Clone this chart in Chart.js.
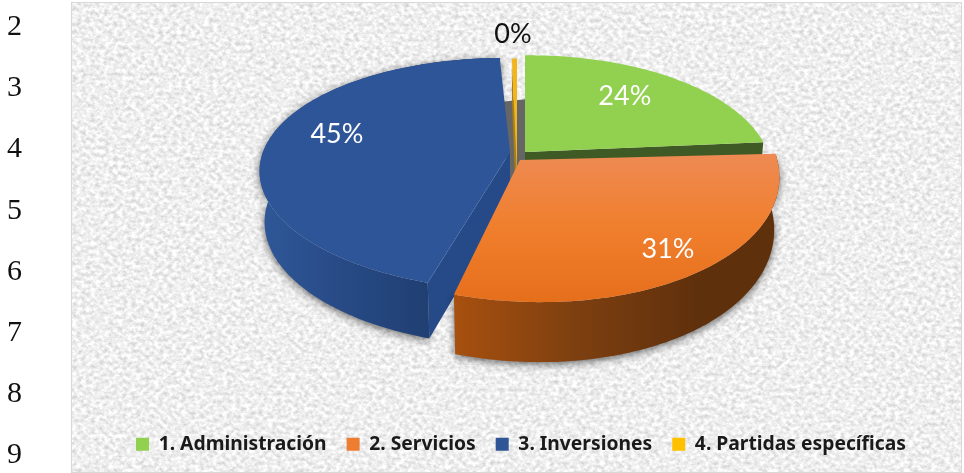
<!DOCTYPE html>
<html lang="es">
<head>
<meta charset="utf-8">
<title>Gastos por capítulo</title>
<script src="https://cdn.jsdelivr.net/npm/chart.js@4"></script>
<style>
  html, body { margin: 0; padding: 0; background: #fff; }
  #page { position: relative; width: 964px; height: 473px; overflow: hidden; }
  #paper { position: absolute; left: 0; top: 0; }
  #chart { position: absolute; left: 0; top: 0; }
  .side { position: absolute; left: 7px; font: 30px "Liberation Serif", serif; color: #111; line-height: 32px; }
</style>
</head>
<body>
<div id="page">
  <svg id="paper" width="964" height="473">
    <filter id="grain" x="0" y="0" width="100%" height="100%" color-interpolation-filters="sRGB">
      <feTurbulence type="fractalNoise" baseFrequency="0.22 0.26" numOctaves="3" seed="7"/>
      <feColorMatrix type="matrix" values="0.32 0 0 0 0.775  0.32 0 0 0 0.775  0.32 0 0 0 0.775  0 0 0 0 1"/>
      <feGaussianBlur stdDeviation="0.7"/>
    </filter>
    <rect x="72" y="3" width="889" height="469" filter="url(#grain)"/>
    <rect x="71.5" y="2.5" width="890" height="470" fill="none" stroke="#d8d8d8"/>
  </svg>
  <canvas id="chart" width="964" height="473"></canvas>
</div>
<script>
"use strict";

const categories = ["1. Administración", "2. Servicios", "3. Inversiones", "4. Partidas específicas"];
const shareValues = [24, 31, 45, 0.4];
const sideNumbers = ["2", "3", "4", "5", "6", "7", "8", "9"];
const sliceColors = ["#92d050", "#ed7d31", "#2f5597", "#ffc000"];

// Perspective of each exploded slice: apex on the page, axes, foreshortening, wall depth, label place
const sliceViews = [
    { ax: 525, ay: 152, a: 242, c: 0, b: -2, d: 115, k: 0.19, depth: 52, slant: 8, label: 0.66, labelDx: 0, labelDy: -4, labelColor: "#ffffff" },
    { ax: 520, ay: 160, a: 258, c: 14, b: 3, d: 135, k: 0.05, depth: 52, slant: 8, label: 0.82, labelDx: 3, labelDy: -2, labelColor: "#ffffff" },
    { ax: 510, ay: 152, a: 247, c: 6, b: 0, d: 112, k: 0.19, depth: 50, slant: 6, label: 0.71, labelDx: -2, labelDy: -7, labelColor: "#ffffff" },
    { ax: 517, ay: 177, a: 244, c: 0, b: 0, d: 141, k: 0.19, depth: 52, slant: 8, label: 1.24, labelDx: -1, labelDy: -1, labelColor: "#111111" }
];

sideNumbers.forEach(function (text, i) {
    const el = document.createElement("div");
    el.className = "side";
    el.textContent = text;
    el.style.top = (9 + i * 61.2) + "px";
    document.getElementById("page").appendChild(el);
});

// Point on the top face for a slice angle and a radius fraction
function project(view, angle, radius) {
    const u = Math.cos(angle) * radius;
    const v = Math.sin(angle) * radius;
    const w = 1 - view.k * v;
    return {
        x: view.ax + (view.a * u + view.c * v) / w,
        y: view.ay + (view.b * u + view.d * v) / w,
        v: v
    };
}

// Same point pushed down to the bottom face
function drop(view, p) {
    return {
        x: view.ax + (p.x - view.ax) * 0.98,
        y: p.y + view.depth + view.slant * p.v
    };
}

function arcPoints(view, start, end) {
    const pts = [];
    const steps = Math.max(2, Math.ceil((end - start) / 0.02));
    for (let i = 0; i <= steps; i++) {
        pts.push(project(view, start + (end - start) * i / steps, 1));
    }
    return pts;
}

function fillPath(ctx, pts, fill) {
    ctx.beginPath();
    pts.forEach(function (p, i) {
        if (i === 0) ctx.moveTo(p.x, p.y);
        else ctx.lineTo(p.x, p.y);
    });
    ctx.closePath();
    ctx.fillStyle = fill;
    ctx.fill();
}

function horizontal(ctx, x0, x1, stops) {
    const g = ctx.createLinearGradient(x0, 0, x1, 0);
    stops.forEach(function (s, i) { g.addColorStop(i / (stops.length - 1), s); });
    return g;
}

function vertical(ctx, y0, y1, stops) {
    const g = ctx.createLinearGradient(0, y0, 0, y1);
    stops.forEach(function (s, i) { g.addColorStop(i / (stops.length - 1), s); });
    return g;
}

function outerWall(ctx, view, arc, fill) {
    const bottom = arc.map(function (p) { return drop(view, p); }).reverse();
    ctx.save();
    ctx.shadowColor = "rgba(0,0,0,0.6)";
    ctx.shadowBlur = 8;
    ctx.shadowOffsetY = 2;
    fillPath(ctx, arc.concat(bottom), fill);
    ctx.restore();
}

function edgeWall(ctx, view, corner, fill) {
    const apex = { x: view.ax, y: view.ay, v: 0 };
    fillPath(ctx, [apex, corner, drop(view, corner), drop(view, apex)], fill);
}

const pie3dPlugin = {
    id: "pie3d",
    beforeDatasetsDraw: function (chart) {
        const ctx = chart.ctx;
        const arcs = chart.getDatasetMeta(0).data;
        const faces = arcs.map(function (arc, i) {
            return arcPoints(sliceViews[i], arc.startAngle, arc.endAngle);
        });
        const apexes = sliceViews.map(function (view) {
            return { x: view.ax, y: view.ay, v: 0 };
        });
        const faceOf = function (i) { return [apexes[i]].concat(faces[i]); };

        // Grey inner walls seen in the gap between green and blue
        const greenBack = faces[0][0];
        const blueBack = faces[2][faces[2].length - 1];
        fillPath(ctx, [
            drop(sliceViews[2], blueBack),
            drop(sliceViews[0], greenBack),
            drop(sliceViews[0], apexes[0]),
            drop(sliceViews[2], apexes[2])
        ], "#666666");

        // Green
        edgeWall(ctx, sliceViews[0], faces[0][faces[0].length - 1], "#3f5a24");
        fillPath(ctx, faceOf(0), "#92d050");

        // Blue
        outerWall(ctx, sliceViews[2], faces[2], horizontal(ctx, 260, 430, ["#2f5798", "#274a85", "#203f72"]));
        edgeWall(ctx, sliceViews[2], faces[2][0], "#264a88");
        fillPath(ctx, faceOf(2), "#2e5597");

        // Yellow sliver
        edgeWall(ctx, sliceViews[3], faces[3][0], "#a87f10");
        fillPath(ctx, faceOf(3), "#f2b51d");

        // Orange
        outerWall(ctx, sliceViews[1], faces[1], horizontal(ctx, 453, 700, ["#a8500f", "#7d3f10", "#5f300c"]));
        fillPath(ctx, faceOf(1), vertical(ctx, 155, 300, ["#ee8a52", "#f07f2d", "#e66f1c"]));

        // Percent labels
        const total = shareValues.reduce(function (s, v) { return s + v; }, 0);
        ctx.font = '27px Lato, sans-serif';
        ctx.textAlign = "center";
        ctx.textBaseline = "middle";
        arcs.forEach(function (arc, i) {
            const view = sliceViews[i];
            const pos = project(view, (arc.startAngle + arc.endAngle) / 2, view.label);
            ctx.fillStyle = view.labelColor;
            ctx.fillText(Math.round(shareValues[i] / total * 100) + "%", pos.x + view.labelDx, pos.y + view.labelDy);
        });
        return false;
    }
};

new Chart(document.getElementById("chart").getContext("2d"), {
    type: "pie",
    data: {
        labels: categories,
        datasets: [{
            data: shareValues,
            backgroundColor: sliceColors,
            borderWidth: 0
        }]
    },
    options: {
        responsive: false,
        animation: false,
        layout: { padding: { left: 78, bottom: 9 } },
        plugins: {
            tooltip: { enabled: false },
            legend: {
                position: "bottom",
                labels: {
                    boxWidth: 13,
                    boxHeight: 13,
                    padding: 20,
                    color: "#1a1a1a",
                    font: { family: '"Noto Sans", sans-serif', size: 19.3, weight: "bold" }
                }
            }
        }
    },
    plugins: [pie3dPlugin]
});
</script>
</body>
</html>
